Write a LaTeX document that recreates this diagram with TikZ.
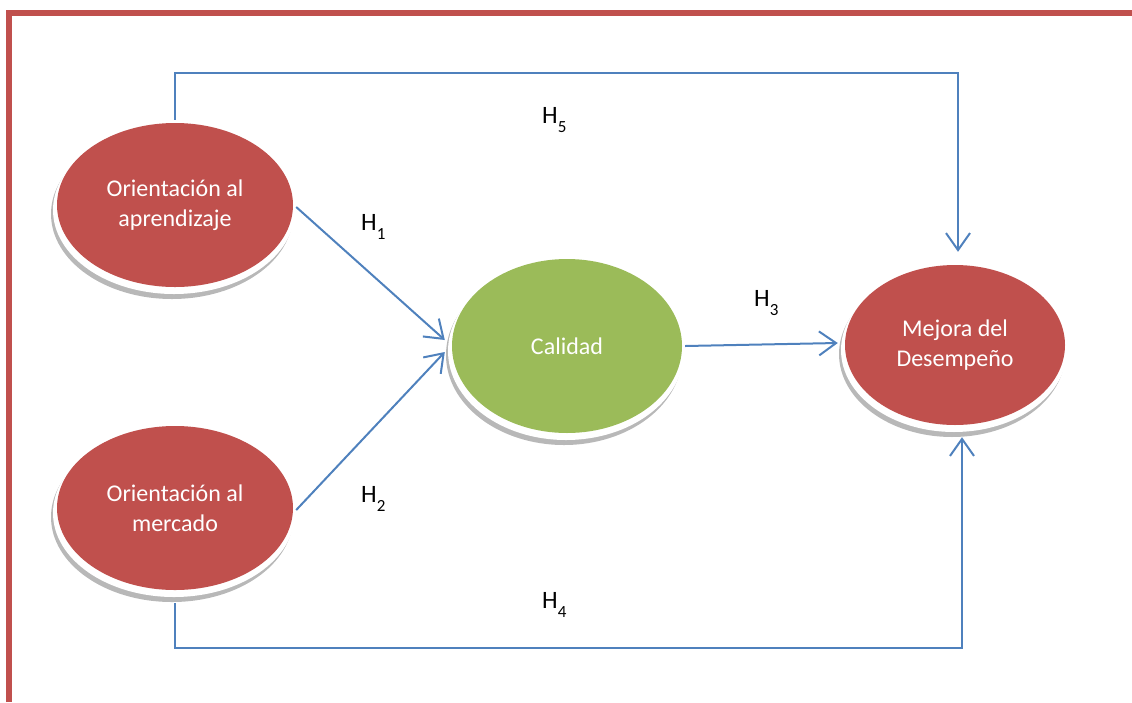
\documentclass[tikz,border=0pt]{standalone}
\usepackage{fontspec}
\setmainfont{Carlito}
\usetikzlibrary{shapes.geometric,arrows.meta}
\definecolor{wred}{HTML}{C0504D}
\definecolor{wgreen}{HTML}{9BBB59}
\definecolor{wblue}{HTML}{4F81BD}
\tikzset{
  oval/.style={ellipse, fill=#1, text=white, align=center, inner sep=0pt,
    font=\fontsize{24}{30}\selectfont},
  shadowring/.style={fill=black!28},
  shadowgap/.style={fill=white},
  conn/.style={draw=wblue, line width=2pt, -{Straight Barb[length=17pt,width=24pt,line width=2pt]}},
  hlabel/.style={anchor=base west, inner sep=0pt, font=\fontsize{25}{25}\selectfont},
  frame/.style={draw=wred, line width=5.5pt}
}
\newcommand{\hyp}[1]{H\raisebox{-9pt}{\fontsize{17}{17}\selectfont #1}}
\begin{document}
\begin{tikzpicture}[x=1pt,y=-1pt]
\useasboundingbox (0,0) rectangle (1132,702);
% frame
\draw[frame] (8.8,702) -- (8.8,13) -- (1132,13);
% shadows
\foreach \cx/\cy/\rx/\ry in {175/205/118/82, 175/508/118/82, 567/346/115/87, 955/345/110/80}{
  \fill[shadowring] (\cx-3,\cy+9) ellipse [x radius=\rx+3, y radius=\ry+3];
  \fill[shadowgap] (\cx-1,\cy+5) ellipse [x radius=\rx+3, y radius=\ry+2];
}
% nodes
\node[oval=wred, minimum width=236pt, minimum height=164pt] (oa) at (175,205) {Orientación al\\aprendizaje};
\node[oval=wred, minimum width=236pt, minimum height=164pt] (om) at (175,508) {Orientación al\\mercado};
\node[oval=wgreen, minimum width=230pt, minimum height=174pt] (cal) at (567,346) {Calidad};
\node[oval=wred, minimum width=220pt, minimum height=160pt] (mej) at (955,345) {Mejora del\\Desempeño};
% connectors
\draw[conn] ([xshift=3pt,yshift=-2pt]oa.east) -- ([xshift=-7pt,yshift=6pt]cal.west);
\draw[conn] ([xshift=3pt,yshift=-2pt]om.east) -- ([xshift=-7pt,yshift=-6pt]cal.west);
\draw[conn] ([xshift=3pt]cal.east) -- ([xshift=-7pt,yshift=2pt]mej.west);
\draw[conn] ([yshift=3pt]oa.north) -- ++(0,-47) -| ([xshift=3pt,yshift=13pt]mej.north);
\draw[conn] ([yshift=-13pt]om.south) -- ++(0,45) -| ([xshift=7pt,yshift=-12pt]mej.south);
% labels
\node[hlabel] (h1) at (361,230) {\hyp{1}};
\node[hlabel] (h2) at (361,502) {\hyp{2}};
\node[hlabel] (h3) at (754,306) {\hyp{3}};
\node[hlabel] (h4) at (542,608) {\hyp{4}};
\node[hlabel] (h5) at (542,123) {\hyp{5}};
\end{tikzpicture}
\end{document}
